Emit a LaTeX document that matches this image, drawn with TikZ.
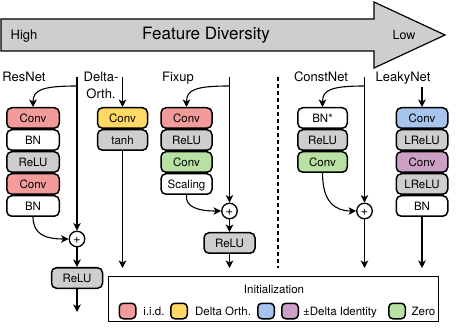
\documentclass[tikz,border=0pt]{standalone}
\usepackage{fontspec}
\setmainfont{TeX Gyre Heros}
\usetikzlibrary{arrows.meta}
\definecolor{cpink}{RGB}{243,155,155}
\definecolor{cyellow}{RGB}{255,216,102}
\definecolor{cgray}{RGB}{206,206,206}
\definecolor{cgreen}{RGB}{184,225,163}
\definecolor{cblue}{RGB}{166,196,236}
\definecolor{cpurple}{RGB}{204,160,196}
\definecolor{carrow}{RGB}{206,206,206}
\begin{document}
\begin{tikzpicture}[x=1pt,y=-1pt,
  blk/.style={draw=black, line width=1.5pt, rounded corners=5pt, minimum height=20.5pt,
    inner sep=0pt, font=\fontsize{11.5}{13}\selectfont, text height=8.2pt, text depth=0pt},
  conn/.style={line width=1.1pt},
  arr/.style={conn, -{Stealth[length=7.5pt,width=7.5pt,inset=2pt]}},
  lbl/.style={font=\fontsize{13}{15}\selectfont, inner sep=0pt, anchor=base},
  plusn/.style={circle, draw=black, line width=1.3pt, fill=white, minimum size=15.5pt, inner sep=0pt,
    font=\fontsize{13}{14}\selectfont, text height=8.5pt, text depth=0pt},
  sw/.style={draw=black, line width=1.5pt, rounded corners=4pt, minimum width=16.5pt, minimum height=15.5pt, inner sep=0pt},
  lgt/.style={font=\fontsize{11.5}{13}\selectfont, inner sep=0pt, anchor=base}
]
\useasboundingbox (0,0) rectangle (457,336);

% diversity arrow
\draw[line width=1.2pt, fill=carrow] (1,19) -- (374,19) -- (374,2) -- (445,35) -- (374,68) -- (374,51) -- (1,51) -- cycle;
\node[lbl] (high) at (24,40) {High};
\node[lbl, font=\fontsize{17}{19}\selectfont] (fdiv) at (206,40) {Feature Diversity};
\node[lbl, font=\fontsize{12.5}{14}\selectfont] (low) at (404,40) {Low};

% labels
\node[lbl] (lres) at (24,82) {ResNet};
\node[lbl] (ldel1) at (101,82) {Delta-};
\node[lbl] (ldel2) at (101,99) {Orth.};
\node[lbl] (lfix) at (178,82) {Fixup};
\node[lbl] (lcon) at (321,82) {ConstNet};
\node[lbl] (llea) at (403,82) {LeakyNet};

% ResNet
\node[blk, fill=cpink, minimum width=52.5pt] (r1) at (33,118) {Conv};
\node[blk, fill=white, minimum width=52.5pt] (r2) at (33,140) {BN};
\node[blk, fill=cgray, minimum width=52.5pt] (r3) at (33,162) {ReLU};
\node[blk, fill=cpink, minimum width=52.5pt] (r4) at (33,184) {Conv};
\node[blk, fill=white, minimum width=52.5pt] (r5) at (33,206) {BN};
\node[plusn] (rp) at (77,239) {+};
\node[blk, fill=cgray, minimum width=51pt] (rrelu) at (77,278) {ReLU};
\coordinate (rtop) at (77,77);
\coordinate (rbend) at (77,86);
\coordinate (rout) at (77,312);
\draw[arr] (rtop) -- (rp);
\draw[arr] (rbend) .. controls (42,86) and (33,90) .. (r1.north);
\draw[arr] (r5.south) .. controls (33,234) and (45,239) .. (rp.west);
\draw[arr] (rp) -- (rrelu);
\draw[arr] (rrelu) -- (rout);

% Delta-Orth
\node[blk, fill=cyellow, minimum width=50pt] (d1) at (122.5,118) {Conv};
\node[blk, fill=cgray, minimum width=50pt] (d2) at (122.5,140) {tanh};
\coordinate (dtop) at (122.5,77);
\coordinate (dout) at (122.5,268);
\draw[arr] (dtop) -- (d1);
\draw[arr] (d2) -- (dout);

% Fixup
\node[blk, fill=cpink, minimum width=51pt] (f1) at (186.5,118) {Conv};
\node[blk, fill=cgray, minimum width=51pt] (f2) at (186.5,140) {ReLU};
\node[blk, fill=cgreen, minimum width=51pt] (f3) at (186.5,162) {Conv};
\node[blk, fill=white, minimum width=51pt] (f4) at (186.5,184) {Scaling};
\node[plusn] (fp) at (229.5,211) {+};
\node[blk, fill=cgray, minimum width=51pt] (frelu) at (229.5,243) {ReLU};
\coordinate (ftop) at (229.5,77);
\coordinate (fbend) at (229.5,86);
\coordinate (fout) at (229.5,268);
\draw[arr] (ftop) -- (fp);
\draw[arr] (fbend) .. controls (195,86) and (186.5,90) .. (f1.north);
\draw[arr] (f4.south) .. controls (185,207) and (198,211) .. (fp.west);
\draw[arr] (fp) -- (frelu);
\draw[arr] (frelu) -- (fout);

% separator
\coordinate (sept) at (278,77);
\coordinate (sepb) at (278,268);
\draw[conn, dash pattern=on 4pt off 3pt] (sept) -- (sepb);

% ConstNet
\node[blk, fill=white, minimum width=49.5pt] (c1) at (322.5,118) {BN*};
\node[blk, fill=cgray, minimum width=49.5pt] (c2) at (322.5,140) {ReLU};
\node[blk, fill=cgreen, minimum width=49.5pt] (c3) at (322.5,162) {Conv};
\node[plusn] (cp) at (364.5,211) {+};
\coordinate (ctop) at (364.5,77);
\coordinate (cbend) at (364.5,86);
\coordinate (cout) at (364.5,268);
\draw[arr] (ctop) -- (cp);
\draw[arr] (cbend) .. controls (331,86) and (322.5,90) .. (c1.north);
\draw[arr] (c3.south) .. controls (322.5,202) and (335,211) .. (cp.west);
\draw[arr] (cp) -- (cout);

% LeakyNet
\node[blk, fill=cblue, minimum width=51.5pt] (l1) at (422,118) {Conv};
\node[blk, fill=cgray, minimum width=51.5pt] (l2) at (422,140) {LReLU};
\node[blk, fill=cpurple, minimum width=51.5pt] (l3) at (422,162) {Conv};
\node[blk, fill=cgray, minimum width=51.5pt] (l4) at (422,184) {LReLU};
\node[blk, fill=white, minimum width=51.5pt] (l5) at (422,206) {BN};
\coordinate (ltop) at (422,87);
\coordinate (lout) at (422,268);
\draw[arr] (ltop) -- (l1);
\draw[arr] (l5) -- (lout);

% legend
\node[draw=black, line width=1.1pt, minimum width=330pt, minimum height=45pt, inner sep=0pt] (legend) at (273.5,299) {};
\node[lgt] (ltitle) at (274,293.5) {Initialization};
\node[sw, fill=cpink] (s1) at (127.5,311) {};
\node[lgt] (t1) at (154,315) {i.i.d.};
\node[sw, fill=cyellow] (s2) at (179,311) {};
\node[lgt] (t2) at (223,315) {Delta Orth.};
\node[sw, fill=cblue] (s3) at (266,311) {};
\node[sw, fill=cpurple] (s4) at (290,311) {};
\node[lgt] (t3) at (340,315) {±Delta Identity};
\node[sw, fill=cgreen] (s5) at (397,311) {};
\node[lgt] (t4) at (423.5,315) {Zero};
\end{tikzpicture}
\end{document}
